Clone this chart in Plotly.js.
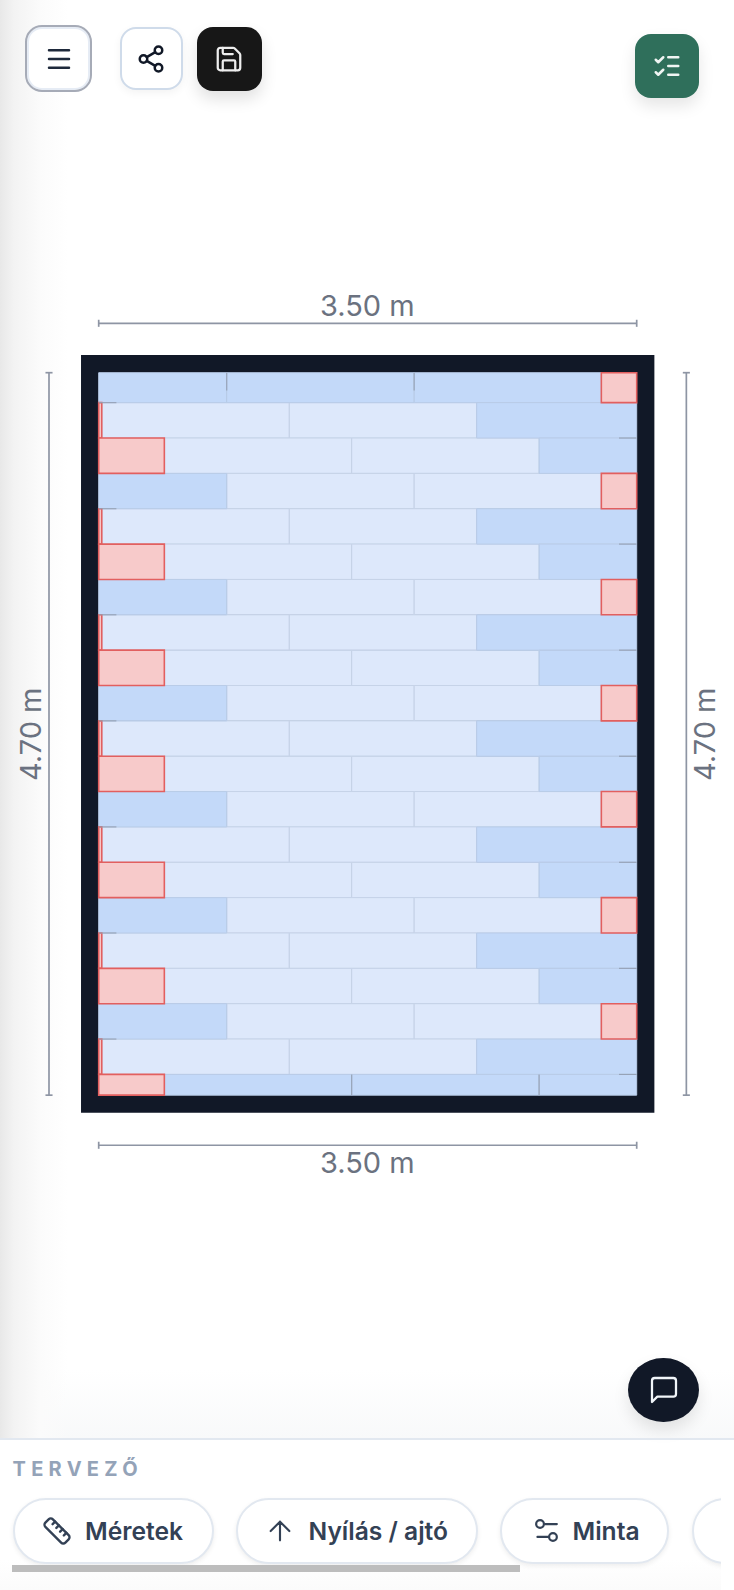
<!DOCTYPE html>
<html lang="hu"><head><meta charset="utf-8"><title>Tervező</title>
<script src="https://cdn.plot.ly/plotly-3.0.1.min.js"></script>
<style>
html,body{margin:0;padding:0;width:734px;height:1590px;overflow:hidden;background:#fff;font-family:Inter,sans-serif}
#bg{position:absolute;left:0;top:0;width:734px;height:1439px;background:linear-gradient(90deg,#e8e8e8 0,#f3f3f3 14px,#fbfbfb 40px,rgba(255,255,255,0) 68px),linear-gradient(180deg,rgba(255,255,255,0) 1370px,#f8f9fa 1439px)}
#chart{position:absolute;left:0;top:0;width:734px;height:1590px}
.b{position:absolute;box-sizing:border-box;display:flex;align-items:center;justify-content:center}
.b svg,.p svg{fill:none;stroke-linecap:round;stroke-linejoin:round}
#menu{left:25px;top:25px;width:67px;height:67px;border-radius:17px;background:#fff;border:2.5px solid #a6abb7;box-shadow:inset 0 0 0 2px #e6ecf5}
#share{left:119.5px;top:27px;width:63px;height:63px;border-radius:16px;background:#fff;border:2px solid #cfdbea;box-shadow:0 3px 8px rgba(0,0,0,.05)}
#save{left:197px;top:27px;width:64.5px;height:64px;border-radius:16px;background:#171717;box-shadow:0 8px 16px rgba(0,0,0,.12)}
#check{left:635px;top:33.5px;width:64px;height:64px;border-radius:16px;background:#2f6f5b;box-shadow:0 8px 16px rgba(0,0,0,.10)}
#chat{left:628px;top:1357.5px;width:71px;height:64.5px;border-radius:50%;background:#111827;box-shadow:0 8px 16px rgba(0,0,0,.10)}
#rule{position:absolute;left:0;top:1438px;width:734px;height:1.5px;background:#e2e8f0}
#lab{position:absolute;left:12.5px;top:1455px;font-size:20px;line-height:28px;font-weight:700;letter-spacing:5.3px;color:#94a3b8}
#clip{position:absolute;left:0;top:1490px;width:721px;height:100px;overflow:hidden;background:linear-gradient(180deg,#fff 70px,#fbfbfb 100px)}
.p{position:absolute;top:7.5px;height:66px;box-sizing:border-box;border-radius:33px;background:#fff;border:2px solid #e2e8f0;box-shadow:0 2px 5px rgba(0,0,0,.07);font-size:24.6px;font-weight:600;line-height:62px;color:#334155;white-space:nowrap}
.p span{position:absolute;top:0}
.p svg{position:absolute}
#sb{position:absolute;left:12px;top:74.5px;width:508px;height:7px;background:#bdbdbd}
</style></head><body>
<div id="bg"></div>
<div id="chart"></div>
<div id="menu" class="b"><svg width="30" height="30" viewBox="0 0 24 24" stroke="#1e293b" stroke-width="2"><path d="M4 5h16M4 12h16M4 19h16"/></svg></div>
<div id="share" class="b"><svg width="30" height="30" viewBox="0 0 24 24" stroke="#111827" stroke-width="2"><circle cx="18" cy="5" r="3"/><circle cx="6" cy="12" r="3"/><circle cx="18" cy="19" r="3"/><path d="M8.6 13.5l6.8 4M15.4 6.5l-6.8 4"/></svg></div>
<div id="save" class="b"><svg width="30" height="30" viewBox="0 0 24 24" stroke="#eeeeee" stroke-width="1.8"><path d="M15.2 3a2 2 0 0 1 1.4.6l3.8 3.8a2 2 0 0 1 .6 1.4V19a2 2 0 0 1-2 2H5a2 2 0 0 1-2-2V5a2 2 0 0 1 2-2z"/><path d="M17 21v-7a1 1 0 0 0-1-1H8a1 1 0 0 0-1 1v7M7 3v4a1 1 0 0 0 1 1h7"/></svg></div>
<div id="check" class="b"><svg width="30" height="30" viewBox="0 0 24 24" stroke="#f0f5f3" stroke-width="2"><path d="M13 5h8M13 12h8M13 19h8M3 17l2 2 4-4M3 7l2 2 4-4"/></svg></div>
<div id="chat" class="b"><svg width="32" height="32" viewBox="0 0 24 24" stroke="#f1f5f9" stroke-width="1.7"><path d="M21 15a2 2 0 0 1-2 2H7l-4 4V5a2 2 0 0 1 2-2h14a2 2 0 0 1 2 2z"/></svg></div>
<div id="rule"></div>
<div id="lab">TERVEZŐ</div>
<div id="clip">
<div class="p" style="left:12.5px;width:201px"><svg style="left:27px;top:16px" width="30" height="30" viewBox="0 0 24 24" stroke="#334155" stroke-width="1.9"><path d="M21.3 15.3a2.4 2.4 0 0 1 0 3.4l-2.6 2.6a2.4 2.4 0 0 1-3.4 0L2.7 8.7a2.41 2.41 0 0 1 0-3.4l2.6-2.6a2.41 2.41 0 0 1 3.4 0z"/><path d="M14.5 12.5l2-2M11.5 9.5l2-2M8.5 6.5l2-2M17.5 15.5l2-2"/></svg><span style="left:70.5px">Méretek</span></div>
<div class="p" style="left:236px;width:241.5px"><svg style="left:25.5px;top:15px" width="32" height="32" viewBox="0 0 24 24" stroke="#334155" stroke-width="1.6"><path d="M12 19V5M5 12l7-7 7 7"/></svg><span style="left:70.5px">Nyílás / ajtó</span></div>
<div class="p" style="left:500px;width:168.5px"><svg style="left:28.5px;top:15px" width="31" height="31" viewBox="0 0 24 24" stroke="#334155" stroke-width="1.7"><path d="M20 7h-9M14 17H5"/><circle cx="17" cy="17" r="3"/><circle cx="7" cy="7" r="3"/></svg><span style="left:70.5px">Minta</span></div>
<div class="p" style="left:692px;width:120px"></div>
<div id="sb"></div>
</div>
<script>
// Floor plan in metres
const roomWidth = 3.5;
const roomHeight = 4.7;
const frameThickness = 0.115;
const dimLabelWidth = "3.50 m";
const dimLabelHeight = "4.70 m";
// Row boundaries, top to bottom
const rowEdges = [0,0.195,0.425,0.655,0.885,1.115,1.345,1.575,1.805,2.035,2.265,2.495,2.725,2.955,3.185,3.415,3.645,3.875,4.105,4.335,4.565,4.7];
// Which joint layout each row uses
const rowLayout = ["A","B","C","A","B","C","A","B","C","A","B","C","A","B","C","A","B","C","A","B","C"];
// Tile kinds per row: l = whole tile, b = cut piece, r = waste offcut
const rowKinds = ["bbbr","rllb","rllb","bllr","rllb","rllb","bllr","rllb","rllb","bllr","rllb","rllb","bllr","rllb","rllb","bllr","rllb","rllb","bllr","rllb","rbbb"];
const jointsA = [0,0.833,2.052,3.27,3.5];
const jointsB = [0,0.02,1.24,2.459,3.5];
const jointsC = [0,0.427,1.646,2.865,3.5];
// Cutting marks
const marksX = [0.833,0.833,null,2.052,2.052,null,2.865,2.865,null,1.646,1.646,null,
  0,0.115,null,3.385,3.5,null,0,0.115,null,3.385,3.5,null,0,0.115,null,3.385,3.5,null,0,0.115,null,3.385,3.5,null,0,0.115,null,3.385,3.5,null,0,0.115,null,3.385,3.5,null,0,0.115,null,3.385,3.5];
const marksY = [0,0.115,null,0,0.115,null,4.565,4.7,null,4.565,4.7,null,
  0.195,0.195,null,0.425,0.425,null,0.885,0.885,null,1.115,1.115,null,1.575,1.575,null,1.805,1.805,null,2.265,2.265,null,2.495,2.495,null,2.955,2.955,null,3.185,3.185,null,3.645,3.645,null,3.875,3.875,null,4.335,4.335,null,4.565,4.565];
// Dimension line positions
const dimTopY = -0.3214, dimBottomY = 5.026, dimLeftX = -0.3233, dimRightX = 3.823, capHalf = 0.023;

const colors = {l:"#dde8fb", b:"#c3d9f9", r:"#f7caca"};
const borders = {l:"#c6d3e8", b:"#b9cce8", r:"#e25f5f"};
const lineW = {l:1, b:1, r:1.6};
const joints = {A:jointsA,B:jointsB,C:jointsC};

const groups = {l:{x:[],base:[],y:[],w:[]}, b:{x:[],base:[],y:[],w:[]}, r:{x:[],base:[],y:[],w:[]}};
rowKinds.forEach((kinds,i)=>{
  const j = joints[rowLayout[i]];
  [...kinds].forEach((k,n)=>{
    const g = groups[k];
    g.base.push(j[n]); g.x.push(j[n+1]-j[n]);
    g.y.push((rowEdges[i]+rowEdges[i+1])/2); g.w.push(rowEdges[i+1]-rowEdges[i]);
  });
});
const traces = ["l","b","r"].map(k=>({
  type:"bar",orientation:"h",name:k,x:groups[k].x,base:groups[k].base,y:groups[k].y,width:groups[k].w,
  marker:{color:colors[k],line:{color:borders[k],width:lineW[k]}},hoverinfo:"skip",showlegend:false
}));
const dimLine = (xs,ys)=>({type:"scatter",mode:"lines",x:xs,y:ys,line:{color:"#8e95a4",width:1.7},hoverinfo:"skip",showlegend:false});
traces.push({type:"scatter",mode:"lines",x:marksX,y:marksY,line:{color:"#94a0b4",width:1.1},hoverinfo:"skip",showlegend:false});
traces.push(dimLine([0,roomWidth,null,0,0,null,roomWidth,roomWidth],[dimTopY,dimTopY,null,dimTopY-capHalf,dimTopY+capHalf,null,dimTopY-capHalf,dimTopY+capHalf]));
traces.push(dimLine([0,roomWidth,null,0,0,null,roomWidth,roomWidth],[dimBottomY,dimBottomY,null,dimBottomY-capHalf,dimBottomY+capHalf,null,dimBottomY-capHalf,dimBottomY+capHalf]));
traces.push(dimLine([dimLeftX,dimLeftX,null,dimLeftX-capHalf,dimLeftX+capHalf,null,dimLeftX-capHalf,dimLeftX+capHalf],[0,roomHeight,null,0,0,null,roomHeight,roomHeight]));
traces.push(dimLine([dimRightX,dimRightX,null,dimRightX-capHalf,dimRightX+capHalf,null,dimRightX-capHalf,dimRightX+capHalf],[0,roomHeight,null,0,0,null,roomHeight,roomHeight]));

const pxPerM = 153.714, originX = 98.7, originY = 372.7, W = 734, H = 1590;
const dimFont = {family:"Inter, sans-serif",size:29,color:"#6b7280"};
const ann = (x,y,text,angle)=>({x,y,xref:"x",yref:"y",text,showarrow:false,textangle:angle,font:dimFont,xanchor:"center",yanchor:"middle"});
const layout = {
  width:W,height:H,margin:{l:0,r:0,t:0,b:0,pad:0},paper_bgcolor:"rgba(0,0,0,0)",plot_bgcolor:"rgba(0,0,0,0)",
  barmode:"overlay",showlegend:false,
  xaxis:{range:[-originX/pxPerM,(W-originX)/pxPerM],visible:false,fixedrange:true},
  yaxis:{range:[(H-originY)/pxPerM,-originY/pxPerM],visible:false,fixedrange:true},
  shapes:[{type:"rect",layer:"below",xref:"x",yref:"y",x0:-frameThickness,x1:roomWidth+frameThickness,y0:-frameThickness,y1:roomHeight+frameThickness,fillcolor:"#111827",line:{width:0}}],
  annotations:[
    ann(roomWidth/2,-0.44,dimLabelWidth,0),
    ann(roomWidth/2,5.14,dimLabelWidth,0),
    ann(-0.44,roomHeight/2,dimLabelHeight,-90),
    ann(3.945,roomHeight/2,dimLabelHeight,-90)
  ]
};
Plotly.newPlot("chart",traces,layout,{staticPlot:true,displayModeBar:false});
</script>
</body></html>
